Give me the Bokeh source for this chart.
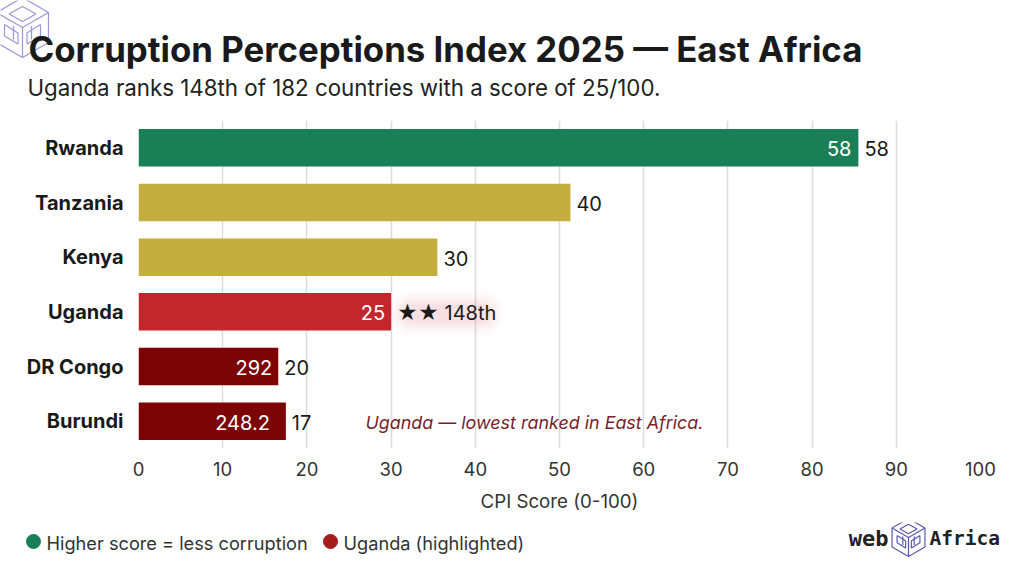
from bokeh.core.properties import value
from bokeh.embed import file_html
from bokeh.layouts import column
from bokeh.models import BoxAnnotation, ColumnDataSource, FactorRange, Label, Range1d
from bokeh.plotting import figure
from bokeh.resources import INLINE

countries = ["Rwanda", "Tanzania", "Kenya", "Uganda", "DR Congo", "Burundi"]
bar_lengths = [85.5, 51.3, 35.5, 30.0, 16.6, 17.5]
inner_labels = ["58", "", "", "25", "292", "248.2"]
outer_labels = ["58", "40", "30", "★★ 148th", "20", "17"]
bar_colors = ["#1a7f56", "#c5ae40", "#c5ae40", "#c1272d", "#7d0404", "#7d0404"]
inner_nudge = [-7, -7, -7, -6, -6, -16]
x_ticks = [0, 10, 20, 30, 40, 50, 60, 70, 80, 90, 100]

TITLE = "Corruption Perceptions Index 2025 — East Africa"
SUBTITLE = "Uganda ranks 148th of 182 countries with a score of 25/100."
NOTE = "Uganda — lowest ranked in East Africa."
X_LABEL = "CPI Score (0-100)"
LEGEND_GREEN = "Higher score = less corruption"
LEGEND_RED = "Uganda (highlighted)"
FONT = "Inter"
WIDTH = 1016
HEADER_H = 120
FOOTER_TOP = 522
FOOTER_H = 46
FRAME_LEFT = 138
FRAME_BOTTOM = 448


def panel(height, top):
    """A figure without axes whose data coordinates are page pixels."""
    f = figure(width=WIDTH, height=height, output_backend="svg", toolbar_location=None,
               x_range=Range1d(0, WIDTH), y_range=Range1d(top + height, top),
               x_axis_location=None, y_axis_location=None, min_border=0)
    f.outline_line_color = None
    f.grid.visible = False
    return f


def logo(f, cx, cy, r, color):
    d = 0.866
    shapes = [
        [(0, -1), (d, -.5), (d, .5), (0, 1), (-d, .5), (-d, -.5), (0, -1)],
        [(-d, -.5), (0, 0), (d, -.5)],
        [(0, 0), (0, 1)],
        [(-.6, -.1), (-.15, .18), (-.15, .55), (-.6, .28), (-.6, -.1)],
        [(.6, -.1), (.15, .18), (.15, .55), (.6, .28), (.6, -.1)],
        [(0, -.7), (.45, -.45), (0, -.2), (-.45, -.45), (0, -.7)],
        [(-.3, -.05), (-.3, .4)],
        [(.3, -.05), (.3, .4)],
    ]
    f.multi_line(xs=[[cx + a * r for a, b in s] for s in shapes],
                 ys=[[cy + b * r for a, b in s] for s in shapes],
                 line_color=color, line_width=1.2)


def label(f, px, py, text, size, color="#1a1a1a", style="normal", align="left", font=FONT):
    f.add_layout(Label(x=px, y=py, text=text, text_font=font, text_font_size=size,
                       text_color=color, text_font_style=style, text_align=align,
                       text_baseline="middle"))


# Header
header = panel(HEADER_H, 0)
logo(header, 22, 27, 30, "#9a97d8")
label(header, 28, 48, TITLE, "34.8px", style="bold")
label(header, 27, 87, SUBTITLE, "22.3px", color="#222222")

# Chart
p = figure(width=WIDTH, height=FOOTER_TOP - HEADER_H, output_backend="svg", toolbar_location=None,
           x_range=Range1d(0, 100), y_range=FactorRange(factors=countries[::-1], factor_padding=0),
           min_border_left=FRAME_LEFT, min_border_right=36, min_border_top=0,
           min_border_bottom=FOOTER_TOP - FRAME_BOTTOM)
p.outline_line_color = None
p.background_fill_color = "white"
p.ygrid.visible = False
p.xgrid.grid_line_color = "#dcdcdc"
p.xgrid.grid_line_width = 1.5
p.xaxis.ticker = x_ticks
p.xaxis.axis_line_color = None
p.yaxis.axis_line_color = None
p.xaxis.major_tick_line_color = None
p.yaxis.major_tick_line_color = None
p.xaxis.minor_tick_line_color = None
p.xaxis.major_label_text_font = FONT
p.xaxis.major_label_text_font_size = "18.5px"
p.xaxis.major_label_text_color = "#333333"
p.xaxis.major_label_standoff = 7
p.xaxis.axis_label = X_LABEL
p.xaxis.axis_label_text_font = FONT
p.xaxis.axis_label_text_font_style = "normal"
p.xaxis.axis_label_text_font_size = "18.7px"
p.xaxis.axis_label_text_color = "#333333"
p.xaxis.axis_label_standoff = 11
p.yaxis.major_label_text_font = FONT
p.yaxis.major_label_text_font_size = "20px"
p.yaxis.major_label_text_font_style = "bold"
p.yaxis.major_label_text_color = "#1a1a1a"
p.yaxis.major_label_standoff = 9

src = ColumnDataSource(dict(country=countries, length=bar_lengths, inner=inner_labels,
                            outer=outer_labels, color=bar_colors, nudge=inner_nudge))

for grow, alpha in [(15, 0.012), (12, 0.015), (9, 0.02), (6, 0.025), (3, 0.03), (0, 0.035)]:
    p.add_layout(BoxAnnotation(left=402 - grow - FRAME_LEFT, right=490 + grow - FRAME_LEFT,
                               top=FRAME_BOTTOM - (304 - grow), bottom=FRAME_BOTTOM - (322 + grow),
                               left_units="screen", right_units="screen",
                               top_units="screen", bottom_units="screen",
                               fill_color="#c1272d", fill_alpha=alpha, line_alpha=0,
                               border_radius=9 + grow, level="underlay"))

p.hbar(y="country", right="length", left=0, height=0.687, fill_color="color", line_color=None, source=src)
p.text(x="length", y="country", text="inner", source=src, x_offset="nudge", y_offset=1, text_align="right",
       text_baseline="middle", text_font=value(FONT), text_font_size="20px", text_color="white")
p.text(x="length", y="country", text="outer", source=src, x_offset=6, y_offset=1, text_align="left",
       text_baseline="middle", text_font=value(FONT), text_font_size="20px", text_color="#1a1a1a")
p.add_layout(Label(x=365 - FRAME_LEFT, y=FRAME_BOTTOM - 422, x_units="screen", y_units="screen",
                   text=NOTE, text_font=FONT, text_font_size="17.9px", text_color="#7a1f2b",
                   text_font_style="italic", text_baseline="middle"))

# Footer
footer = panel(FOOTER_H, FOOTER_TOP)
footer.scatter(x=[33, 330], y=[541, 541], marker="circle", size=14, color=["#1a7f56", "#a51c1c"])
label(footer, 46, 542, LEGEND_GREEN, "18.2px", color="#333333")
label(footer, 343, 542, LEGEND_RED, "18.2px", color="#333333")
logo(footer, 908, 537, 19, "#5c58b0")
label(footer, 888, 538, "web", "22px", color="#222222", style="bold", align="right", font="DejaVu Sans Mono")
label(footer, 929, 538, "Africa", "19.5px", color="#222222", style="bold", font="DejaVu Sans Mono")

page = column(column(header, spacing=0), p, column(footer, spacing=0), spacing=0)
open("out.html", "w").write(file_html(page, INLINE))
